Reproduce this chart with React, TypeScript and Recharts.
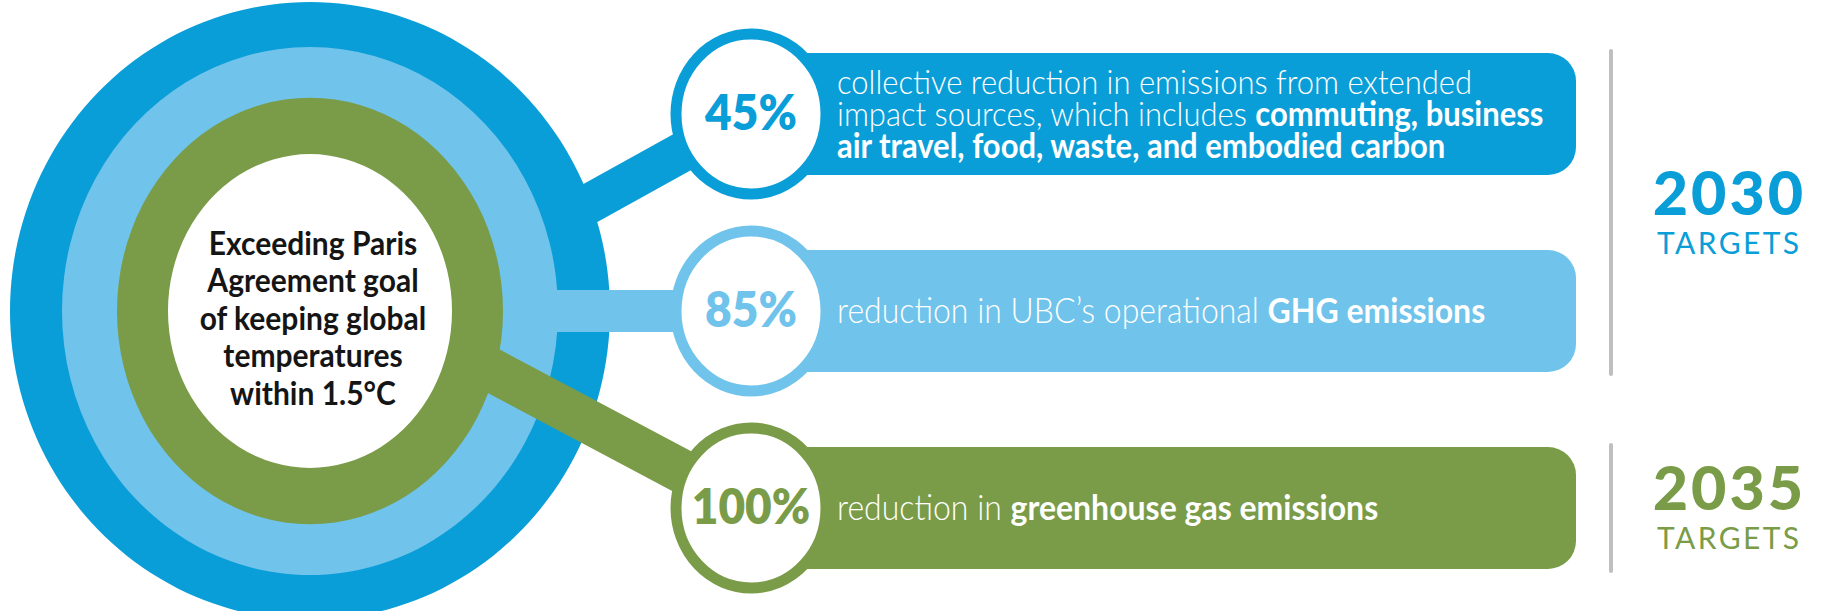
import { BarChart, Bar, XAxis, YAxis, PieChart, Pie, Cell, Label, Rectangle } from 'recharts';

const W = 1826;
const H = 611;

// targets, one row each
const targetLabels = ['45%', '85%', '100%'];
const targetValues = [45, 85, 100];
const targetYears = ['2030', '2030', '2035'];
const targetText = [
  [
    'collective reduction in emissions from extended',
    'impact sources, which includes **commuting, business**',
    '**air travel, food, waste, and embodied carbon**',
  ],
  ['reduction in UBC’s operational **GHG emissions**'],
  ['reduction in **greenhouse gas emissions**'],
];
const centerLines = ['Exceeding Paris', 'Agreement goal', 'of keeping global', 'temperatures', 'within 1.5°C'];
const yearSubtitle = 'TARGETS';

const colors = ['#0A9ED8', '#70C3EA', '#7A9C48'];
const connectorAngle = [29, 0, -28];
const connectorWidth = [40, 42, 44];
const bodyFontSize = [31, 32, 32];

const FONT = 'Lato, "Open Sans", sans-serif';
// rings are a little taller than wide in the picture
const RING = { cx: 310, cy: 311, rx: [300, 248, 193, 142], ky: [1.03, 1.065, 1.105] };
const TEXT_KY = 1.08;
const margin = { top: 15, right: 250, bottom: 5, left: 751 };
const PILL_RIGHT = W - margin.right;

const rows = targetLabels.map((label, i) => ({
  label,
  value: targetValues[i],
  year: targetYears[i],
  lines: targetText[i],
}));

const ringData = targetValues.map((v, i) => ({ name: targetLabels[i], value: v }));

function parseRich(line: string) {
  return line.split('**').map((s, i) => ({ text: s, bold: i % 2 === 1 }));
}

function stretchY(cy: number, k: number) {
  return `translate(0 ${cy}) scale(1 ${k}) translate(0 ${-cy})`;
}

// point where the connector meets the middle of its own (elliptical) ring
function connectorStart(cx: number, cy: number, i: number) {
  const a = (connectorAngle[i] * Math.PI) / 180;
  const k = RING.ky[i];
  const dx = -Math.cos(a);
  const dy = Math.sin(a);
  const vx = cx - RING.cx;
  const vy = (cy - RING.cy) / k;
  const ey = dy / k;
  const r = (RING.rx[i] + RING.rx[i + 1]) / 2;
  const qa = dx * dx + ey * ey;
  const qb = vx * dx + vy * ey;
  const qc = vx * vx + vy * vy - r * r;
  const t = (-qb - Math.sqrt(Math.max(qb * qb - qa * qc, 0))) / qa;
  return { x: cx + t * dx, y: cy + t * dy };
}

function PillBackground(props: any) {
  const { x, y, width, height, index } = props;
  return (
    <Rectangle
      x={x}
      y={y}
      width={width}
      height={height}
      radius={[0, 28, 28, 0]}
      fill={colors[index]}
    />
  );
}

function TargetShape(props: any) {
  const { x, y, height, index, payload } = props;
  const cx = x;
  const cy = y + height / 2;
  const color = colors[index];
  const start = connectorStart(cx, cy, index);
  const lines: string[] = payload.lines;
  const lineGap = 32;

  // year group (gray rule + label) drawn once, by the first row of the group
  const year = payload.year;
  const first = targetYears.indexOf(year);
  const last = targetYears.lastIndexOf(year);
  const step = (H - margin.top - margin.bottom) / targetYears.length;
  let yearGroup = null;
  if (index === first) {
    const top = y - 2;
    const bottom = y + height + (last - first) * step + 2;
    const gy = cy + ((last - first) * step) / 2;
    const lx = PILL_RIGHT + 152;
    yearGroup = (
      <g>
        <line x1={PILL_RIGHT + 35} x2={PILL_RIGHT + 35} y1={top} y2={bottom} stroke="#BFBFBF" strokeWidth={4} strokeLinecap="round" />
        <text x={lx + 1.5} y={gy + 2} textAnchor="middle" fontFamily={FONT} fontWeight={900} fontSize={61} letterSpacing={3} fill={color}>
          {year}
        </text>
        <text x={lx + 1.2} y={gy + 41} textAnchor="middle" fontFamily={FONT} fontWeight={400} fontSize={30} letterSpacing={2.4} fill={color}>
          {yearSubtitle}
        </text>
      </g>
    );
  }

  return (
    <g>
      <line x1={start.x} y1={start.y} x2={cx} y2={cy} stroke={color} strokeWidth={connectorWidth[index]} />
      <ellipse cx={cx} cy={cy} rx={75} ry={80} fill="#fff" stroke={color} strokeWidth={11} />
      <g transform={stretchY(cy, TEXT_KY)}>
        <text x={cx} y={cy + 16 / TEXT_KY} textAnchor="middle" fontFamily={FONT} fontWeight={800} fontSize={46} fill={color}>
          {payload.label}
        </text>
        <text fontFamily={FONT} fontSize={bodyFontSize[index]} fill="#fff" style={{ whiteSpace: 'pre' }}>
          {lines.map((line, k) => (
            <tspan key={k} x={837} y={cy + (12 + (k - (lines.length - 1) / 2) * lineGap) / TEXT_KY}>
              {parseRich(line).map((seg, j) => (
                <tspan key={j} fontWeight={seg.bold ? 700 : 300}>
                  {seg.text}
                </tspan>
              ))}
            </tspan>
          ))}
        </text>
      </g>
      {yearGroup}
    </g>
  );
}

function CenterText(props: any) {
  const vb = props.viewBox || {};
  const cx = vb.cx ?? RING.cx;
  const cy = vb.cy ?? RING.cy;
  const k = RING.ky[2];
  return (
    <text textAnchor="middle" fontFamily={FONT} fontWeight={700} fontSize={30} fill="#151515">
      {centerLines.map((l, n) => (
        <tspan key={n} x={cx + 3} y={cy + (19 + (n - 2) * 37.5) / k}>
          {l}
        </tspan>
      ))}
    </text>
  );
}

export default function App() {
  return (
    <div style={{ position: 'relative', width: W, height: H, background: '#fff', overflow: 'hidden' }}>
      <style>{'body{margin:0;}'}</style>
      {ringData.map((d, i) => (
        <div
          key={d.name}
          style={{
            position: 'absolute',
            left: 0,
            top: 0,
            transform: `scaleY(${RING.ky[i]})`,
            transformOrigin: `${RING.cx}px ${RING.cy}px`,
          }}
        >
          <PieChart width={W} height={H} margin={{ top: 0, right: 0, bottom: 0, left: 0 }}>
            <Pie
              data={[d]}
              dataKey="value"
              nameKey="name"
              cx={RING.cx}
              cy={RING.cy}
              outerRadius={RING.rx[i]}
              innerRadius={i === ringData.length - 1 ? RING.rx[i + 1] : RING.rx[i + 1] - 4}
              startAngle={90}
              endAngle={-270}
              stroke="none"
              isAnimationActive={false}
            >
              <Cell fill={colors[i]} />
              {i === ringData.length - 1 && <Label position="center" content={CenterText} />}
            </Pie>
          </PieChart>
        </div>
      ))}
      <div style={{ position: 'absolute', left: 0, top: 0 }}>
        <BarChart width={W} height={H} data={rows} layout="vertical" margin={margin}>
          <XAxis type="number" domain={[0, 100]} hide />
          <YAxis type="category" dataKey="label" hide />
          <Bar
            dataKey="value"
            barSize={122}
            isAnimationActive={false}
            background={PillBackground}
            shape={TargetShape}
          />
        </BarChart>
      </div>
    </div>
  );
}
